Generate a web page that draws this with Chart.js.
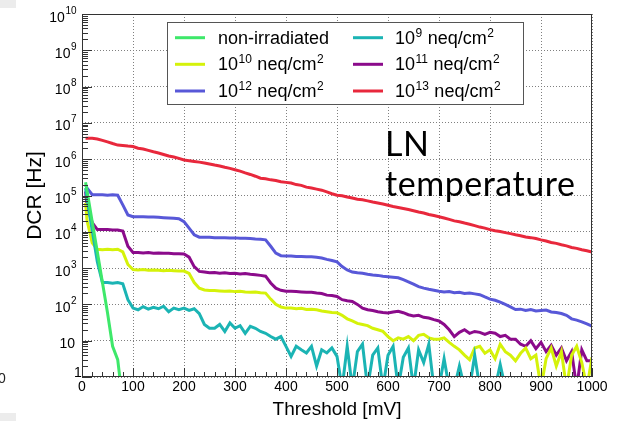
<!DOCTYPE html>
<html><head><meta charset="utf-8">
<script src="https://cdn.jsdelivr.net/npm/chart.js@4"></script>
<style>html,body{margin:0;padding:0;background:#fff;}canvas{display:block;}</style>
</head><body>
<canvas id="c" width="623" height="421"></canvas>
<script>
// ---------- data ----------
const thresholds = [7,10,20,30,40,50,60,70,80,90,
 100,110,120,130,140,150,160,170,180,190,
 200,210,220,230,240,250,260,270,280,290,
 300,310,320,330,340,350,360,370,380,390,
 400,410,420,430,440,450,460,470,480,490,
 500,510,520,530,540,550,560,570,580,590,
 600,610,620,630,640,650,660,670,680,690,
 700,710,720,730,740,750,760,770,780,790,
 800,810,820,830,840,850,860,870,880,890,
 900,910,920,930,940,950,960,970,980,990,
 1000];

const dcrNonIrradiated = [2.3e5,1.3e5,1.9e4,2.8e3,4.1e2,5.9e1,7,3.0,0.2,null,
 null,null,null,null,null,null,null,null,null,null,
 null,null,null,null,null,null,null,null,null,null,
 null,null,null,null,null,null,null,null,null,null,
 null,null,null,null,null,null,null,null,null,null,
 null,null,null,null,null,null,null,null,null,null,
 null,null,null,null,null,null,null,null,null,null,
 null,null,null,null,null,null,null,null,null,null,
 null,null,null,null,null,null,null,null,null,null,
 null,null,null,null,null,null,null,null,null,null,
 null];

const dcr1e9 = [1.6e5,8.0e4,1.1e4,1.5e3,4.0e2,4.0e2,3.8e2,4.0e2,3.7e2,1.35e2,
 79,71,87,74,83,76,89,63,79,72,
 79,68,76,56,28,22,22,28,18,31,
 22,26,16,25,22,18,16,13,11,13,
 7,3.7,7,5.6,4.6,7,2,5.6,4.6,6.3,
 3.7,0.5,7,0.5,5,8,0.5,4,6.3,0.5,
 4,7,0.5,3.5,6.3,0.5,5.6,2.5,8,0.5,
 0.5,3.2,0.5,0.5,2,0.5,0.5,4,0.5,0.5,
 0.5,0.5,2.2,0.5,null,null,null,null,null,null,
 null,null,null,null,null,null,null,null,null,null,
 null];

const dcr1e10 = [6.3e4,2.0e4,5.0e3,3.3e3,3.2e3,3.3e3,3.2e3,3.3e3,2.8e3,1.26e3,
 910,890,910,870,890,870,850,870,850,830,
 830,710,400,280,250,240,240,235,230,235,
 225,230,220,215,220,210,205,140,100,85,
 79,79,76,78,72,74,71,66,63,60,
 59,50,40,35,30,28,26,22,20,18,
 13,10,12,11,13,10,14,15,12,11,
 11,12,9,7,5.6,4,3,6.3,7,4.5,
 5.6,3.2,8,5,4,2.8,4.5,6.3,3.2,4,
 0.5,3.2,6.3,2,5,0.5,4,7,2.5,0.5,
 3.5];

const dcr1e11 = [1.3e5,5.0e4,1.8e4,1.15e4,1.15e4,1.15e4,1.12e4,1.12e4,1.05e4,4.0e3,
 2700,2700,2600,2700,2550,2600,2550,2550,2500,2500,
 2450,2000,1100,810,780,740,760,720,740,710,
 720,690,710,680,660,630,600,390,280,245,
 230,230,225,220,215,215,205,200,180,175,
 165,135,126,120,100,79,71,68,63,60,
 58,62,65,59,52,48,50,44,42,38,
 35,28,20,13,17,20,16,18,17,15,
 17,16,13,14,11,11,8,7,10,6,
 9,5,7.5,4,6.3,2.8,5,0.5,5.6,2.8,
 2.8];

const dcr1e12 = [1.95e5,1.6e5,1.05e5,1.05e5,1.05e5,1.02e5,1.05e5,1.02e5,5.5e4,2.9e4,
 2.6e4,2.6e4,2.6e4,2.55e4,2.55e4,2.5e4,2.45e4,2.4e4,2.35e4,2.3e4,
 1.9e4,1.26e4,8300,7100,7100,7100,6900,6900,6900,6800,
 6800,6600,6600,6500,6300,6200,6000,4000,2600,2200,
 2150,2150,2100,2100,2050,2050,2000,1900,1740,1620,
 1480,1100,890,780,740,720,680,650,630,600,
 580,560,540,480,420,360,310,280,260,245,
 230,220,225,210,215,200,205,195,185,160,
 140,130,115,100,85,72,74,68,72,66,
 68,70,62,60,56,50,40,37,33,29,
 25];

const dcr1e13 = [3.8e6,3.8e6,3.75e6,3.6e6,3.3e6,3.0e6,2.7e6,2.45e6,2.4e6,2.3e6,
 2.24e6,2.0e6,1.9e6,1.75e6,1.6e6,1.48e6,1.35e6,1.23e6,1.15e6,1.05e6,
 9.5e5,9.1e5,8.7e5,8.3e5,7.9e5,7.4e5,6.9e5,6.5e5,6.0e5,5.6e5,
 5.1e5,4.7e5,4.2e5,3.8e5,3.4e5,3.0e5,2.9e5,2.7e5,2.6e5,2.4e5,
 2.3e5,2.2e5,2.0e5,1.9e5,1.7e5,1.6e5,1.5e5,1.4e5,1.26e5,1.12e5,
 1.02e5,9.8e4,9.1e4,8.5e4,7.9e4,7.6e4,7.1e4,6.6e4,6.2e4,5.8e4,
 5.4e4,5.0e4,4.7e4,4.4e4,4.1e4,3.8e4,3.5e4,3.3e4,3.0e4,2.8e4,
 2.6e4,2.4e4,2.2e4,2.0e4,1.9e4,1.74e4,1.62e4,1.48e4,1.35e4,1.26e4,
 1.15e4,1.07e4,1.02e4,9500,8900,8300,7800,7200,6900,6500,
 6000,5600,5100,4800,4400,4100,3700,3500,3200,3000,
 2750];

const seriesLabels = ['non-irradiated','10^{9} neq/cm^{2}','10^{10} neq/cm^{2}','10^{11} neq/cm^{2}','10^{12} neq/cm^{2}','10^{13} neq/cm^{2}'];
const seriesValues = [dcrNonIrradiated, dcr1e9, dcr1e10, dcr1e11, dcr1e12, dcr1e13];
const seriesColors = ['#3ee86a','#1bb4b4','#d5f20a','#8b0b8b','#5858d8','#e8283c'];

const xTickValues = [0,100,200,300,400,500,600,700,800,900,1000];
const yTickValues = [1,10,1e2,1e3,1e4,1e5,1e6,1e7,1e8,1e9,1e10];
const yTickLabels = ['1','10','10^{2}','10^{3}','10^{4}','10^{5}','10^{6}','10^{7}','10^{8}','10^{9}','10^{10}'];
const annotationLines = ['LN','temperature'];

// ---------- drawing ----------
const FONT = '"Liberation Sans", Arial, Helvetica, sans-serif';

function drawRich(ctx, text, x, baseY, size, supSize, rise, dry) {
  const re = /\^\{([^}]*)\}/g; let last = 0, m, cx = x;
  const put = (t, f, yy) => { ctx.font = f; if (!dry) ctx.fillText(t, cx, yy); cx += ctx.measureText(t).width; };
  while ((m = re.exec(text))) {
    put(text.slice(last, m.index), size + 'px ' + FONT, baseY);
    cx += 0.5;
    put(m[1], supSize + 'px ' + FONT, baseY - rise);
    cx += 0.5;
    last = re.lastIndex;
  }
  put(text.slice(last), size + 'px ' + FONT, baseY);
  return cx - x;
}

const rootPlugin = {
  id: 'rootStyle',
  beforeDraw(chart) {
    const ctx = chart.ctx;
    ctx.save();
    ctx.fillStyle = '#ffffff'; ctx.fillRect(0, 0, chart.width, chart.height);
    ctx.fillStyle = '#ececec';
    ctx.fillRect(0, 0, 16, 8);
    ctx.fillRect(0, 413, 16, 8);
    ctx.fillStyle = '#222';
    ctx.font = '14px ' + FONT; ctx.textBaseline = 'middle'; ctx.textAlign = 'left';
    ctx.fillText('0', -2, 379);
    ctx.restore();
  },
  afterDraw(chart) {
    const ctx = chart.ctx, a = chart.chartArea;
    const xs = chart.scales.x, ys = chart.scales.y;
    ctx.save();
    // frame
    ctx.strokeStyle = '#333'; ctx.lineWidth = 1;
    ctx.strokeRect(Math.round(a.left) + 0.5, Math.round(a.top) + 0.5, Math.round(a.right - a.left) - 1, Math.round(a.bottom - a.top) - 1);
    // y ticks (log, inside)
    ctx.beginPath();
    for (let d = 0; d < 10; d++) {
      for (let k = 1; k <= 9; k++) {
        const py = Math.round(ys.getPixelForValue(k * Math.pow(10, d))) + 0.5;
        const len = k === 1 ? 10 : 6;
        ctx.moveTo(a.left, py); ctx.lineTo(a.left + len, py);
      }
    }
    // x ticks (inside)
    for (let v = 0; v <= 1000; v += 20) {
      const px = Math.round(xs.getPixelForValue(v)) + 0.5;
      const len = v % 100 === 0 ? 9 : 5;
      ctx.moveTo(px, a.bottom); ctx.lineTo(px, a.bottom - len);
    }
    ctx.stroke();
    // y tick labels with superscripts
    ctx.fillStyle = '#000'; ctx.textAlign = 'left'; ctx.textBaseline = 'alphabetic';
    yTickValues.forEach((v, i) => {
      const py = ys.getPixelForValue(v);
      const lab = yTickLabels[i];
      if (lab === '1') { ctx.font = '14px ' + FONT; ctx.fillText('1', 74, py - 0.5); return; }
      const w = drawRich(ctx, lab, 0, 0, 14, 10, 6, true);
      const right = lab === '10' ? 75 : 77;
      drawRich(ctx, lab, right - w, py + 7.5, 14, 10, 8);
    });
    // legend
    const L = {x: 167.5, y: 22.5, w: 356, h: 82};
    ctx.fillStyle = '#fff'; ctx.fillRect(L.x, L.y, L.w, L.h);
    ctx.strokeStyle = '#555'; ctx.strokeRect(L.x, L.y, L.w, L.h);
    const rowsY = [37.7, 64.3, 91];
    seriesLabels.forEach((lab, i) => {
      const col = i % 2, row = Math.floor(i / 2);
      const lx = col ? 353 : 175, tx = col ? 395 : 218, cy = rowsY[row];
      ctx.strokeStyle = seriesColors[i]; ctx.lineWidth = 3;
      ctx.beginPath(); ctx.moveTo(lx, cy); ctx.lineTo(lx + 30, cy); ctx.stroke();
      ctx.fillStyle = '#000';
      drawRich(ctx, lab, tx, cy + 6, 18, 12, 7);
    });
    // annotation
    ctx.fillStyle = '#000';
    ctx.font = '34px Lato, "Open Sans", sans-serif';
    ctx.letterSpacing = '0px';
    const w0 = ctx.measureText(annotationLines[1]).width;
    const ls = (190 - w0) / 10;
    ctx.letterSpacing = ls.toFixed(2) + 'px';
    ctx.fillText(annotationLines[0], 385, 156);
    ctx.fillText(annotationLines[1], 385, 196);
    ctx.restore();
  }
};

const gridOpts = {color: '#808080', lineWidth: 1, drawTicks: false};

new Chart(document.getElementById('c').getContext('2d'), {
  type: 'line',
  data: {
    datasets: seriesValues.map((vals, i) => ({
      label: seriesLabels[i],
      data: thresholds.map((x, j) => ({x: x, y: vals[j]})),
      borderColor: seriesColors[i],
      backgroundColor: seriesColors[i],
      borderWidth: 3,
      pointRadius: 0,
      tension: 0,
      fill: false,
      spanGaps: false,
      clip: 0
    }))
  },
  options: {
    responsive: false,
    animation: false,
    devicePixelRatio: 1,
    events: [],
    layout: {padding: {top: 14, right: 31, left: 0, bottom: 0}},
    plugins: {legend: {display: false}, tooltip: {enabled: false}},
    scales: {
      x: {
        type: 'linear', min: 0, max: 1000,
        afterBuildTicks: s => { s.ticks = xTickValues.map(v => ({value: v})); },
        afterFit: s => { s.height = 44; },
        grid: gridOpts,
        border: {display: false, dash: [1, 2]},
        ticks: {padding: 2, color: '#000', font: {family: FONT, size: 14}, maxRotation: 0, autoSkip: false, callback: v => String(v)},
        title: {display: true, text: 'Threshold [mV]', color: '#000', font: {family: FONT, size: 19}, padding: {top: 0, bottom: 0}}
      },
      y: {
        type: 'logarithmic', min: 1, max: 1e10,
        afterBuildTicks: s => { s.ticks = yTickValues.map(v => ({value: v})); },
        afterFit: s => { s.width = 82; },
        grid: gridOpts,
        border: {display: false, dash: [1, 2]},
        ticks: {display: false},
        title: {display: true, text: 'DCR [Hz]', color: '#000', font: {family: FONT, size: 21}, padding: {top: 23, bottom: 0}}
      }
    }
  },
  plugins: [rootPlugin]
});
</script>
</body></html>
